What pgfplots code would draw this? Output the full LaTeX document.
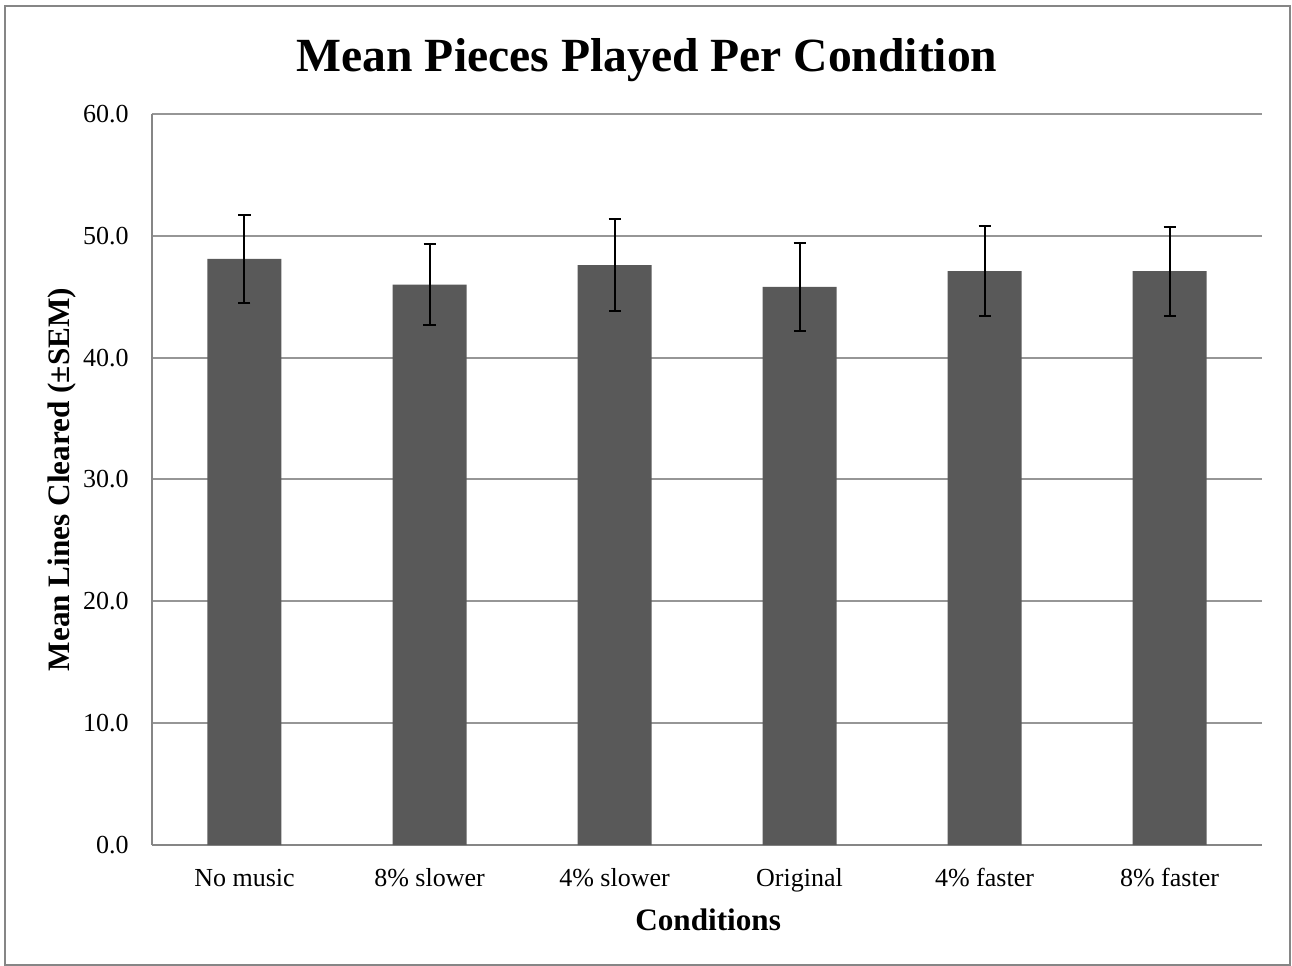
\documentclass[border=0pt]{standalone}
\usepackage{pgfplots}
\pgfplotsset{compat=1.18}
\usepackage{fontspec}
\setmainfont{Liberation Serif}
\definecolor{barc}{RGB}{89,89,89}
\definecolor{gridc}{RGB}{150,150,150}
\definecolor{axc}{RGB}{134,134,134}
\begin{document}
\begin{tikzpicture}
\useasboundingbox (-76bp,-60.5bp) rectangle (570bp,422.5bp);
\draw[axc, line width=1bp] (-73.6bp,-60bp) rectangle (569bp,419.6bp);
\begin{axis}[
  at={(0,0)}, anchor=south west,
  scale only axis,
  width=555bp, height=365.5bp,
  xmin=-0.5, xmax=5.5,
  ymin=0, ymax=60,
  ytick={0,10,20,30,40,50,60},
  xtick=data,
  xticklabels={No music,8\% slower,4\% slower,Original,4\% faster,8\% faster},
  major tick length=0pt,
  axis x line*=bottom, axis y line*=left,
  axis line style={axc, line width=1bp},
  ymajorgrids,
  grid style={gridc, line width=1bp},
  /pgf/number format/assume math mode=true,
  yticklabel={\pgfmathprintnumber[fixed,zerofill,precision=1]{\tick}},
  ticklabel style={font=\fontsize{13bp}{15bp}\selectfont},
  yticklabel style={anchor=east, inner sep=0pt, xshift=-11.5bp},
  xticklabel style={anchor=base, inner sep=0pt, yshift=-20.5bp},
  title={Mean Pieces Played Per Condition},
  title style={at={(rel axis cs:0.446,1.0424)}, anchor=base, font=\fontsize{23.8bp}{28bp}\selectfont\bfseries},
  xlabel={Conditions},
  xlabel style={at={(rel axis cs:0.501,-0.1163)}, anchor=base, font=\fontsize{15.6bp}{18bp}\selectfont\bfseries},
  ylabel={Mean Lines Cleared (±SEM)},
  ylabel style={at={(rel axis cs:-0.074,0.5)}, anchor=base, font=\fontsize{15.6bp}{18bp}\selectfont\bfseries},
  clip=false,
]
\addplot[ybar, bar width=37bp, fill=barc, draw=none,
  error bars/.cd, y dir=both, y explicit,
  error bar style={black, line width=1bp},
  error mark options={rotate=90, mark size=3bp, line width=1bp, black}]
  coordinates {
  (0,48.1) +- (0,3.6)
  (1,46.0) +- (0,3.3)
  (2,47.6) +- (0,3.8)
  (3,45.8) +- (0,3.6)
  (4,47.1) +- (0,3.7)
  (5,47.1) +- (0,3.65)
};
\end{axis}
\end{tikzpicture}
\end{document}
